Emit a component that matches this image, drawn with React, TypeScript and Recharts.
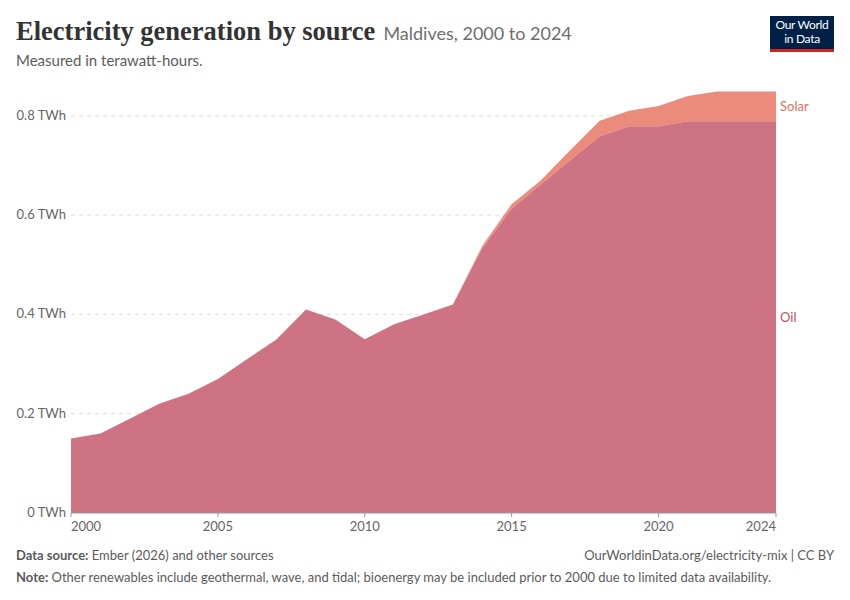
import { AreaChart, Area, XAxis, YAxis, CartesianGrid, ReferenceDot } from "recharts";

const years = [
  2000, 2001, 2002, 2003, 2004, 2005, 2006, 2007, 2008, 2009, 2010, 2011, 2012,
  2013, 2014, 2015, 2016, 2017, 2018, 2019, 2020, 2021, 2022, 2023, 2024,
];
const oil = [
  0.15, 0.16, 0.19, 0.22, 0.24, 0.27, 0.31, 0.35, 0.41, 0.39, 0.35, 0.38, 0.4,
  0.42, 0.533, 0.613, 0.662, 0.711, 0.759, 0.779, 0.779, 0.789, 0.789, 0.789, 0.789,
];
const solar = [
  0, 0, 0, 0, 0, 0, 0, 0, 0, 0, 0, 0, 0,
  0, 0.005, 0.009, 0.008, 0.02, 0.031, 0.031, 0.041, 0.051, 0.06, 0.06, 0.06,
];
const yTicks = [0, 0.2, 0.4, 0.6, 0.8];
const gridValues = [0.2, 0.4, 0.6, 0.8];
const xTicks = [2000, 2005, 2010, 2015, 2020, 2024];

const data = years.map((year, i) => ({ year, oil: oil[i], solar: solar[i] }));
const last = data[data.length - 1];

const OIL = "#c15065";
const SOLAR = "#e56e5a";
const font = "Lato, 'Noto Sans', sans-serif";

function XTick({ x, y, payload }: any) {
  const v = payload.value;
  const anchor = v === 2000 ? "start" : v === 2024 ? "end" : "middle";
  return (
    <text x={x} y={y + 12} textAnchor={anchor} fill="#666" fontSize={13} fontFamily={font}>
      {v}
    </text>
  );
}

function YTick({ x, y, payload }: any) {
  return (
    <text x={x} y={y + 4} textAnchor="end" fill="#666" fontSize={13} fontFamily={font}>
      {payload.value === 0 ? "0 TWh" : `${payload.value} TWh`}
    </text>
  );
}

export default function App() {
  return (
    <div style={{ position: "relative", width: 850, height: 600, background: "#fff", fontFamily: font }}>
      <style>{`body{margin:0}`}</style>
      <div style={{ position: "absolute", left: 16, top: 16, whiteSpace: "nowrap" }}>
        <span style={{ fontFamily: "'Liberation Serif', serif", fontWeight: 700, fontSize: 26.5, color: "#333" }}>
          Electricity generation by source
        </span>
        <span style={{ fontSize: 18, color: "#6e6e6e", marginLeft: 8 }}>Maldives, 2000 to 2024</span>
      </div>
      <div style={{ position: "absolute", left: 16, top: 51, fontSize: 15, color: "#5b5b5b" }}>
        Measured in terawatt-hours.
      </div>
      <div
        style={{
          position: "absolute", left: 770, top: 16, width: 64, height: 36, background: "#002147",
          borderBottom: "3px solid #ce261e", boxSizing: "border-box", color: "#fff", fontSize: 12,
          lineHeight: "14px", textAlign: "center", paddingTop: 2, fontFamily: font, letterSpacing: -0.3,
        }}
      >
        <div>Our World</div>
        <div>in Data</div>
      </div>

      <div style={{ position: "absolute", left: 0, top: 0 }}>
        <AreaChart width={850} height={600} data={data} margin={{ top: 91, right: 74, bottom: 57, left: 11 }}>
          <CartesianGrid vertical={false} stroke="#ddd" strokeDasharray="4 4" horizontalValues={gridValues} />
          <XAxis
            dataKey="year" type="number" domain={[2000, 2024]} ticks={xTicks} interval={0}
            tick={<XTick />} axisLine={{ stroke: "#999" }} tickLine={{ stroke: "#999" }} tickSize={4} height={30}
          />
          <YAxis
            type="number" domain={[0, 0.85]} ticks={yTicks} tick={<YTick />} axisLine={false}
            tickLine={false} tickSize={0} tickMargin={5} width={60}
          />
          <Area
            type="linear" dataKey="oil" stackId="1" stroke="none" fill={OIL} fillOpacity={0.8}
            isAnimationActive={false}
          />
          <Area
            type="linear" dataKey="solar" stackId="1" stroke="none" fill={SOLAR} fillOpacity={0.8}
            isAnimationActive={false}
          />
          <ReferenceDot
            x={last.year} y={last.oil / 2} r={0} ifOverflow="visible"
            label={{ value: "Oil", position: "right", fill: OIL, fontSize: 13, fontFamily: font, offset: 4 }}
          />
          <ReferenceDot
            x={last.year} y={last.oil + last.solar / 2} r={0} ifOverflow="visible"
            label={{ value: "Solar", position: "right", fill: SOLAR, fontSize: 13, fontFamily: font, offset: 4 }}
          />
        </AreaChart>
      </div>

      <div style={{ position: "absolute", left: 16, top: 547, fontSize: 13, color: "#5b5b5b" }}>
        <b style={{ fontWeight: 700 }}>Data source:</b> Ember (2026) and other sources
      </div>
      <div style={{ position: "absolute", right: 16, top: 547, fontSize: 13, color: "#5b5b5b" }}>
        OurWorldinData.org/electricity-mix | CC BY
      </div>
      <div style={{ position: "absolute", left: 16, top: 569, fontSize: 13, color: "#5b5b5b" }}>
        <b style={{ fontWeight: 700 }}>Note:</b> Other renewables include geothermal, wave, and tidal; bioenergy may be
        included prior to 2000 due to limited data availability.
      </div>
    </div>
  );
}
